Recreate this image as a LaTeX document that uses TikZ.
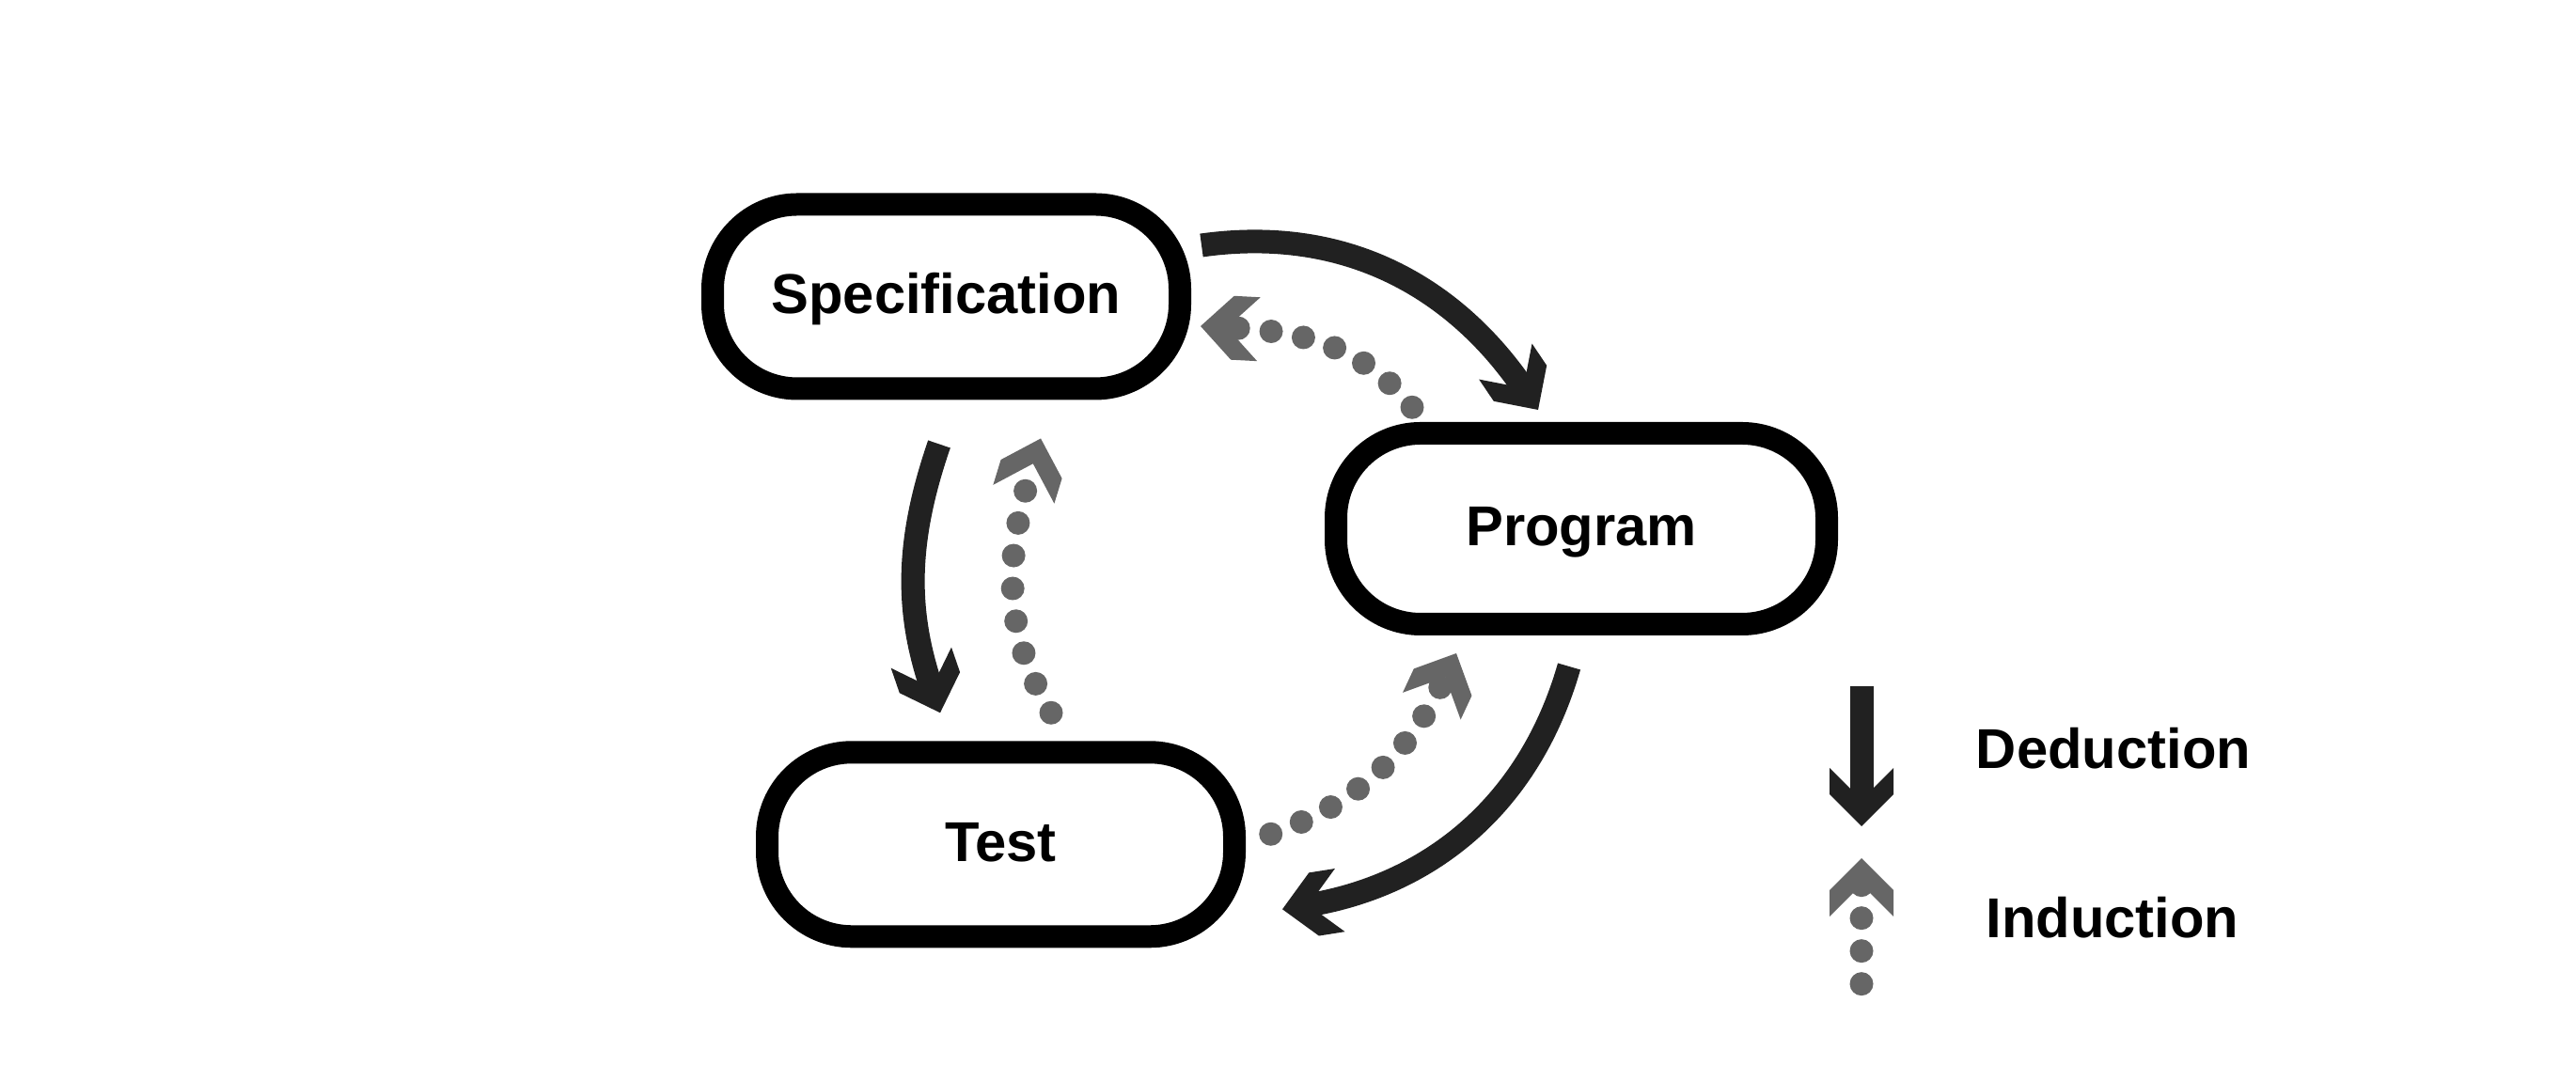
\documentclass[tikz,border=0pt]{standalone}
\usepackage{fontspec}
\setmainfont{Liberation Sans}
\definecolor{deducegray}{HTML}{212121}
\definecolor{inducegray}{HTML}{666666}

% chevron head, sized by the line width
\pgfdeclarearrow{
  name = Chevron,
  parameters = {\the\pgflinewidth},
  setup code = {
    \pgfarrowssettipend{0pt}
    \pgfarrowssetlineend{-1.0\pgflinewidth}
    \pgfarrowssetvisualbackend{-2.48\pgflinewidth}
    \pgfarrowssetbackend{-2.48\pgflinewidth}
    \pgfarrowshullpoint{0pt}{0pt}
    \pgfarrowsupperhullpoint{-2.48\pgflinewidth}{1.36\pgflinewidth}
  },
  drawing code = {
    \pgfpathmoveto{\pgfqpoint{0pt}{0pt}}
    \pgfpathlineto{\pgfpoint{-1.36\pgflinewidth}{1.36\pgflinewidth}}
    \pgfpathlineto{\pgfpoint{-2.48\pgflinewidth}{1.36\pgflinewidth}}
    \pgfpathlineto{\pgfpoint{-1.12\pgflinewidth}{0pt}}
    \pgfpathlineto{\pgfpoint{-2.48\pgflinewidth}{-1.36\pgflinewidth}}
    \pgfpathlineto{\pgfpoint{-1.36\pgflinewidth}{-1.36\pgflinewidth}}
    \pgfpathclose
    \pgfusepathqfill
  },
}

\tikzset{
  phase/.style={draw, line width=0.24cm, rounded corners=0.9cm, minimum width=4.97cm, minimum height=1.96cm,
    inner sep=0pt, text height=0.43cm, text depth=0.07cm, font=\fontsize{17}{20}\selectfont\bfseries},
  deduce/.style={color=deducegray, line width=0.25cm, -Chevron},
  induce/.style={color=inducegray, line width=0.25cm, line cap=round, dash pattern=on 0pt off 0.35cm, -Chevron},
  legendtext/.style={anchor=base, inner sep=0pt, font=\fontsize{17}{20}\selectfont\bfseries},
}

\begin{document}
\begin{tikzpicture}
    \useasboundingbox (0, 0) rectangle (27.4, 11.5);

    % Nodes
    \node[phase] at (10.065, 8.345) (spec) {Specification};
    \node[phase, minimum width=5.22cm, minimum height=2.03cm] at (16.82, 5.875) (prog) {Program};
    \node[phase] at (10.645, 2.517) (test) {Test};

    % Deduction
    \draw[deduce] ([shift={(0.11,0.545)}]spec.east) to[out=8, in=124] ([shift={(-0.46,0.13)}]prog.north);
    \draw[deduce] ([shift={(-0.13,-0.33)}]prog.south) to[out=-106, in=9] ([shift={(0.39,-0.69)}]test.east);
    \draw[deduce] ([shift={(-0.075,-0.47)}]spec.south) to[out=-109, in=109] ([shift={(-0.645,0.30)}]test.north);

    % Induction
    \draw[induce] ([shift={(0.535,0.30)}]test.north) to[out=121, in=-107] ([shift={(1.005,-0.41)}]spec.south);
    \draw[induce] ([shift={(-1.80,0.157)}]prog.north) to[out=129, in=-3] ([shift={(0.10,-0.315)}]spec.east);
    \draw[induce] ([shift={(0.267,0.11)}]test.east) to[out=19, in=-115] ([shift={(-1.33,-0.19)}]prog.south);

    % Legend
    \coordinate (dedtop) at (19.80, 4.20);
    \coordinate (dedtip) at (19.80, 2.71);
    \draw[deduce] (dedtop) -- (dedtip);
    \node[legendtext] at (22.48, 3.32) (ded) {Deduction};

    \coordinate (indbot) at (19.80, 1.033);
    \coordinate (indtip) at (19.80, 2.37);
    \draw[induce] (indbot) -- (indtip);
    \node[legendtext] at (22.47, 1.52) (ind) {Induction};

  \end{tikzpicture}
\end{document}
